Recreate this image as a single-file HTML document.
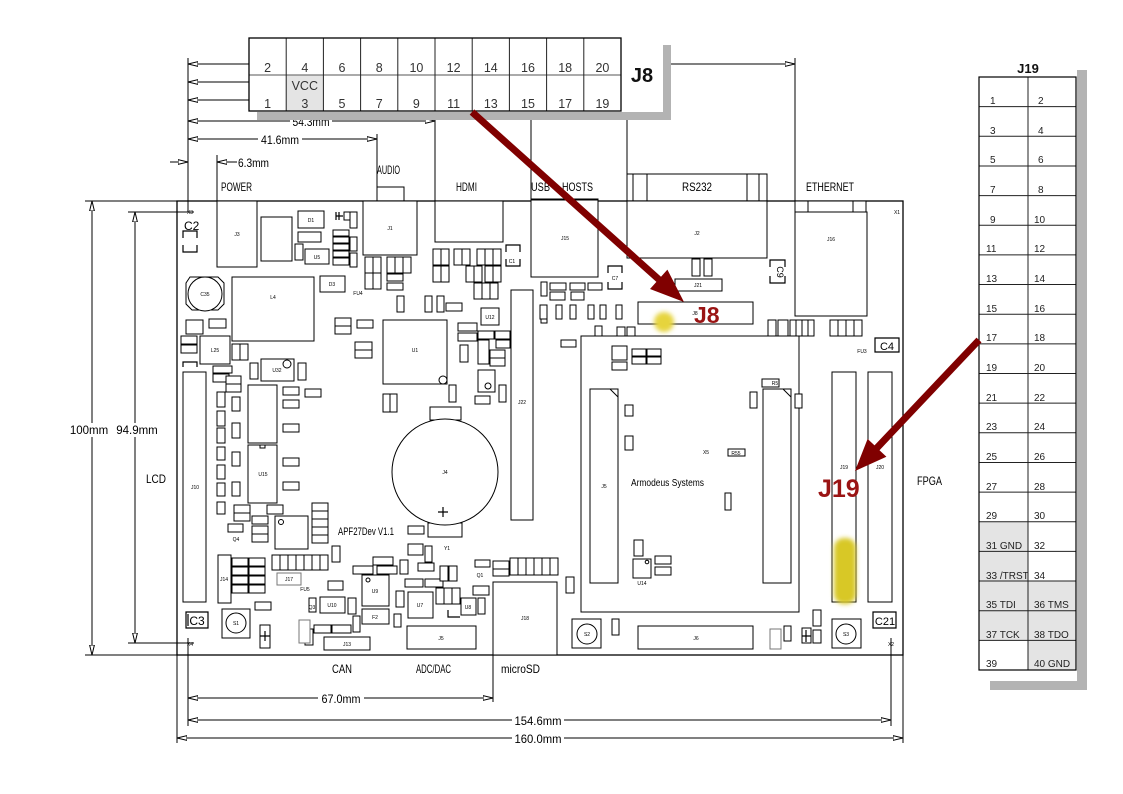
<!DOCTYPE html>
<html><head><meta charset="utf-8"><style>
html,body{margin:0;padding:0;background:#fff;}
svg{display:block;}
.n{font-family:"Liberation Sans Narrow","Liberation Sans",sans-serif;}
.s{font-family:"Liberation Sans",sans-serif;}
</style></head><body>
<svg width="1123" height="794" viewBox="0 0 1123 794" xmlns="http://www.w3.org/2000/svg">
<defs>
<marker id="a" viewBox="0 0 10 6" refX="10" refY="3" markerWidth="10" markerHeight="6" orient="auto-start-reverse" markerUnits="userSpaceOnUse"><path d="M0,0.6 L10,3 L0,5.4 Z" fill="#fff" stroke="#000" stroke-width="1"/></marker>
<filter id="bl" x="-50%" y="-50%" width="200%" height="200%"><feGaussianBlur stdDeviation="2.5"/></filter>
</defs>
<rect width="1123" height="794" fill="#fff"/>

<!-- ===== Dimension lines ===== -->
<g stroke="#000" stroke-width="1" fill="none">
<line x1="188" y1="58" x2="188" y2="212"/>
<path d="M249,64 H188" marker-end="url(#a)"/>
<path d="M249,82 H188" marker-end="url(#a)"/>
<path d="M249,100 H188" marker-end="url(#a)"/>
<path d="M188,121 H435" marker-start="url(#a)" marker-end="url(#a)"/>
<path d="M188,139 H377" marker-start="url(#a)" marker-end="url(#a)"/>
<path d="M170,162 H188" marker-end="url(#a)"/>
<path d="M237,162 H217" marker-end="url(#a)"/>
<line x1="217" y1="155" x2="217" y2="267"/>
<line x1="377" y1="134" x2="377" y2="201"/>
<line x1="435" y1="113" x2="435" y2="201"/>
<line x1="531" y1="113" x2="531" y2="210"/>
<line x1="627" y1="113" x2="627" y2="258"/>
<path d="M663,64 H795" marker-end="url(#a)"/>
<line x1="795" y1="58" x2="795" y2="316"/>
<line x1="85" y1="201" x2="177" y2="201"/>
<line x1="85" y1="655" x2="177" y2="655"/>
<path d="M92,201 V655" marker-start="url(#a)" marker-end="url(#a)"/>
<line x1="128" y1="212" x2="194" y2="212"/>
<line x1="128" y1="643" x2="194" y2="643"/>
<path d="M135,212 V643" marker-start="url(#a)" marker-end="url(#a)"/>
<line x1="188" y1="638" x2="188" y2="726"/>
<line x1="493" y1="655" x2="493" y2="702"/>
<line x1="891" y1="638" x2="891" y2="726"/>
<line x1="177" y1="655" x2="177" y2="743"/>
<line x1="903" y1="655" x2="903" y2="743"/>
<path d="M188,698 H493" marker-start="url(#a)" marker-end="url(#a)"/>
<path d="M188,720 H891" marker-start="url(#a)" marker-end="url(#a)"/>
<path d="M177,738 H903" marker-start="url(#a)" marker-end="url(#a)"/>
</g>
<g class="n" font-size="12" fill="#000">
<rect x="290" y="115" width="42" height="12" fill="#fff"/><text x="311" y="126" text-anchor="middle" textLength="37" lengthAdjust="spacingAndGlyphs">54.3mm</text>
<rect x="258" y="133" width="44" height="12" fill="#fff"/><text x="280" y="144" text-anchor="middle" textLength="38" lengthAdjust="spacingAndGlyphs">41.6mm</text>
<text x="238" y="167" textLength="31" lengthAdjust="spacingAndGlyphs">6.3mm</text>
<rect x="318" y="692" width="46" height="12" fill="#fff"/><text x="341" y="703" text-anchor="middle" textLength="39" lengthAdjust="spacingAndGlyphs">67.0mm</text>
<rect x="512" y="714" width="52" height="12" fill="#fff"/><text x="538" y="725" text-anchor="middle" textLength="47" lengthAdjust="spacingAndGlyphs">154.6mm</text>
<rect x="512" y="732" width="52" height="12" fill="#fff"/><text x="538" y="743" text-anchor="middle" textLength="47" lengthAdjust="spacingAndGlyphs">160.0mm</text>
<text x="221" y="191" textLength="31" lengthAdjust="spacingAndGlyphs">POWER</text>
<text x="377" y="174" textLength="23" lengthAdjust="spacingAndGlyphs">AUDIO</text>
<text x="456" y="191" textLength="21" lengthAdjust="spacingAndGlyphs">HDMI</text>
<text x="531" y="191" textLength="19" lengthAdjust="spacingAndGlyphs">USB</text>
<text x="562" y="191" textLength="31" lengthAdjust="spacingAndGlyphs">HOSTS</text>
<text x="682" y="191" textLength="30" lengthAdjust="spacingAndGlyphs">RS232</text>
<text x="806" y="191" textLength="48" lengthAdjust="spacingAndGlyphs">ETHERNET</text>
<text x="332" y="673" textLength="20" lengthAdjust="spacingAndGlyphs">CAN</text>
<text x="416" y="673" textLength="35" lengthAdjust="spacingAndGlyphs">ADC/DAC</text>
<text x="501" y="673" textLength="39" lengthAdjust="spacingAndGlyphs">microSD</text>
<text x="146" y="483" textLength="20" lengthAdjust="spacingAndGlyphs">LCD</text>
<text x="917" y="485" textLength="25" lengthAdjust="spacingAndGlyphs">FPGA</text>
</g>
<g class="s" font-size="11.5" fill="#000">
<rect x="70" y="423" width="38" height="14" fill="#fff"/><text x="89" y="434" text-anchor="middle">100mm</text>
<rect x="115" y="423" width="42" height="14" fill="#fff"/><text x="137" y="434" text-anchor="middle">94.9mm</text>
</g>

<!-- ===== Board outline ===== -->
<rect x="177" y="201" width="726" height="454" fill="none" stroke="#000" stroke-width="1.3"/>
<g stroke="#000" stroke-width="1" fill="none">
<rect x="627" y="174" width="140" height="27"/>
<line x1="633" y1="174" x2="633" y2="201"/><line x1="647" y1="174" x2="647" y2="201"/>
<line x1="747" y1="174" x2="747" y2="201"/><line x1="759" y1="174" x2="759" y2="201"/>
<rect x="377" y="187" width="27" height="14"/>
</g>

<!-- ===== Components ===== -->
<g stroke="#000" stroke-width="1" fill="#fff">
<rect x="217" y="201" width="40" height="66"/>
<rect x="261" y="217" width="31" height="44"/>
<rect x="298" y="211" width="26" height="17"/>
<rect x="298" y="232" width="23" height="10"/>
<rect x="295" y="244" width="8" height="16"/>
<rect x="305" y="249" width="24" height="15"/>
<rect x="344" y="212" width="12" height="8"/>
<rect x="350" y="212" width="7" height="16"/>
<rect x="333" y="230" width="16" height="6"/><rect x="333" y="237" width="16" height="6"/><rect x="333" y="244" width="16" height="6"/><rect x="333" y="251" width="16" height="6"/><rect x="333" y="258" width="16" height="7"/>
<rect x="350" y="237" width="7" height="14"/><rect x="350" y="253" width="7" height="14"/>
<rect x="363" y="201" width="54" height="54"/>
<rect x="435" y="201" width="68" height="41"/>
<rect x="531" y="199" width="67" height="78"/>
<line x1="531" y1="199.5" x2="598" y2="199.5" stroke-width="2"/>
<rect x="433" y="249" width="8" height="16"/><rect x="441" y="249" width="8" height="16"/>
<rect x="433" y="266" width="8" height="16"/><rect x="441" y="266" width="8" height="16"/>
<rect x="454" y="249" width="8" height="16"/><rect x="462" y="249" width="8" height="16"/>
<rect x="477" y="249" width="8" height="16"/><rect x="485" y="249" width="8" height="16"/><rect x="493" y="249" width="8" height="16"/>
<rect x="466" y="266" width="8" height="16"/><rect x="474" y="266" width="8" height="16"/>
<rect x="485" y="266" width="8" height="16"/><rect x="493" y="266" width="8" height="16"/>
<rect x="474" y="283" width="8" height="16"/><rect x="482" y="283" width="8" height="16"/><rect x="490" y="283" width="8" height="16"/>
<rect x="365" y="257" width="8" height="16"/><rect x="373" y="257" width="8" height="16"/>
<rect x="365" y="273" width="8" height="16"/><rect x="373" y="273" width="8" height="16"/>
<rect x="387" y="257" width="8" height="16"/><rect x="395" y="257" width="8" height="16"/><rect x="403" y="257" width="8" height="16"/>
<rect x="387" y="274" width="16" height="7"/><rect x="387" y="283" width="16" height="7"/>
<rect x="397" y="296" width="7" height="16"/><rect x="425" y="296" width="7" height="16"/><rect x="437" y="296" width="7" height="16"/>
<rect x="446" y="303" width="16" height="8"/>
<path d="M190,277 H218 L224,283 V304 L218,310 H192 L186,304 V283 Z"/>
<circle cx="205" cy="294" r="17"/>
<rect x="232" y="277" width="82" height="64"/>
<rect x="320" y="276" width="25" height="16"/>
<rect x="186" y="320" width="17" height="14"/>
<rect x="209" y="319" width="17" height="9"/>
<rect x="181" y="336" width="16" height="8"/><rect x="181" y="345" width="16" height="8"/>
<rect x="200" y="336" width="30" height="28"/>
<rect x="232" y="344" width="8" height="16"/><rect x="240" y="344" width="8" height="16"/>
<rect x="213" y="366" width="19" height="7"/><rect x="213" y="374" width="16" height="8"/>
<rect x="226" y="376" width="15" height="8"/><rect x="226" y="384" width="15" height="8"/>
<rect x="183" y="372" width="23" height="230"/>
<rect x="250" y="363" width="8" height="16"/>
<rect x="261" y="359" width="33" height="22"/>
<circle cx="287" cy="364" r="4"/>
<rect x="298" y="363" width="8" height="17"/>
<rect x="283" y="387" width="16" height="8"/><rect x="305" y="389" width="16" height="8"/><rect x="283" y="400" width="16" height="8"/>
<rect x="283" y="424" width="16" height="8"/>
<rect x="217" y="392" width="8" height="15"/><rect x="217" y="411" width="8" height="15"/><rect x="217" y="428" width="8" height="15"/><rect x="217" y="447" width="8" height="13"/><rect x="217" y="465" width="8" height="14"/><rect x="217" y="483" width="8" height="13"/><rect x="217" y="502" width="8" height="12"/>
<rect x="232" y="397" width="8" height="14"/><rect x="232" y="423" width="8" height="15"/><rect x="232" y="452" width="8" height="14"/><rect x="232" y="482" width="8" height="14"/>
<rect x="248" y="385" width="29" height="58"/>
<rect x="248" y="445" width="29" height="58"/>
<rect x="260" y="445" width="5" height="3"/>
<rect x="283" y="458" width="16" height="8"/><rect x="283" y="482" width="16" height="8"/>
<rect x="234" y="505" width="16" height="8"/><rect x="234" y="513" width="16" height="8"/>
<rect x="228" y="524" width="15" height="8"/>
<rect x="267" y="505" width="16" height="9"/>
<rect x="252" y="516" width="16" height="8"/><rect x="252" y="526" width="16" height="8"/><rect x="252" y="534" width="16" height="8"/>
<rect x="275" y="516" width="33" height="33"/>
<circle cx="281" cy="522" r="2.5"/>
<rect x="312" y="503" width="16" height="8"/><rect x="312" y="511" width="16" height="8"/><rect x="312" y="519" width="16" height="8"/><rect x="312" y="527" width="16" height="8"/><rect x="312" y="535" width="16" height="8"/>
<rect x="272" y="555" width="8" height="15"/><rect x="280" y="555" width="8" height="15"/><rect x="288" y="555" width="8" height="15"/><rect x="296" y="555" width="8" height="15"/><rect x="304" y="555" width="8" height="15"/><rect x="312" y="555" width="8" height="15"/><rect x="320" y="555" width="8" height="15"/>
<rect x="332" y="546" width="8" height="16"/>
<rect x="218" y="555" width="13" height="48"/>
<rect x="232" y="558" width="16" height="8"/><rect x="249" y="558" width="16" height="8"/>
<rect x="232" y="567" width="16" height="8"/><rect x="249" y="567" width="16" height="8"/>
<rect x="232" y="576" width="16" height="8"/><rect x="249" y="576" width="16" height="8"/>
<rect x="232" y="585" width="16" height="8"/><rect x="249" y="585" width="16" height="8"/>
<rect x="277" y="573" width="24" height="12" stroke="#777"/>
<rect x="328" y="581" width="15" height="9"/>
<rect x="255" y="602" width="16" height="8"/>
<rect x="222" y="609" width="28" height="29"/>
<circle cx="236" cy="623" r="10"/>
<rect x="260" y="625" width="10" height="23"/>
<rect x="305" y="629" width="8" height="16"/>
<rect x="299" y="620" width="11" height="23" stroke="#777"/>
<rect x="314" y="625" width="17" height="8"/><rect x="332" y="625" width="19" height="8"/>
<rect x="324" y="637" width="46" height="13"/>
<rect x="320" y="597" width="25" height="16"/>
<rect x="309" y="598" width="7" height="14"/><rect x="348" y="598" width="8" height="16"/>
<rect x="362" y="575" width="27" height="31"/>
<circle cx="368" cy="580" r="2"/>
<rect x="353" y="566" width="20" height="8"/><rect x="373" y="557" width="20" height="8"/><rect x="377" y="566" width="20" height="8"/>
<rect x="362" y="609" width="27" height="15"/>
<rect x="353" y="616" width="7" height="16"/><rect x="394" y="614" width="7" height="13"/>
<rect x="400" y="560" width="8" height="14"/>
<rect x="408" y="544" width="15" height="11"/><rect x="425" y="546" width="7" height="16"/>
<rect x="418" y="563" width="16" height="8"/>
<rect x="405" y="579" width="18" height="8"/><rect x="425" y="579" width="18" height="8"/>
<rect x="440" y="566" width="8" height="15"/><rect x="449" y="566" width="8" height="15"/>
<rect x="396" y="591" width="8" height="16"/>
<rect x="408" y="592" width="25" height="26"/>
<rect x="436" y="588" width="8" height="16"/><rect x="444" y="588" width="8" height="16"/><rect x="452" y="588" width="8" height="16"/>
<rect x="461" y="598" width="15" height="17"/><rect x="478" y="598" width="7" height="16"/>
<rect x="407" y="626" width="69" height="23"/>
<rect x="475" y="560" width="15" height="7"/>
<rect x="493" y="561" width="16" height="8"/><rect x="493" y="569" width="16" height="7"/>
<rect x="473" y="586" width="16" height="9"/>
<rect x="510" y="558" width="8" height="17"/><rect x="518" y="558" width="8" height="17"/><rect x="526" y="558" width="8" height="17"/><rect x="534" y="558" width="8" height="17"/><rect x="542" y="558" width="8" height="17"/><rect x="550" y="558" width="8" height="17"/>
<rect x="493" y="582" width="64" height="73"/>
<rect x="408" y="526" width="16" height="8"/>
<rect x="511" y="290" width="22" height="230"/>
<rect x="383" y="320" width="64" height="64"/>
<circle cx="443" cy="380" r="4"/>
<rect x="335" y="318" width="16" height="8"/><rect x="335" y="326" width="16" height="8"/>
<rect x="357" y="320" width="16" height="8"/>
<rect x="355" y="342" width="17" height="8"/><rect x="355" y="350" width="17" height="8"/>
<rect x="449" y="385" width="7" height="17"/>
<rect x="383" y="394" width="7" height="18"/><rect x="390" y="394" width="7" height="18"/>
<rect x="458" y="323" width="19" height="8"/><rect x="458" y="333" width="19" height="8"/>
<rect x="481" y="308" width="18" height="17"/>
<rect x="478" y="331" width="16" height="8"/><rect x="495" y="331" width="15" height="8"/><rect x="496" y="340" width="14" height="8"/>
<rect x="478" y="340" width="11" height="24"/>
<rect x="490" y="350" width="15" height="8"/><rect x="490" y="358" width="15" height="8"/>
<rect x="460" y="345" width="8" height="17"/>
<rect x="478" y="370" width="17" height="22"/>
<circle cx="488" cy="386" r="3"/>
<rect x="499" y="385" width="7" height="17"/>
<rect x="475" y="396" width="15" height="8"/>
<rect x="541" y="282" width="6" height="14"/><rect x="541" y="306" width="6" height="17"/>
<rect x="430" y="407" width="31" height="13"/>
<rect x="428" y="523" width="34" height="14"/>
<circle cx="445" cy="472" r="53"/>
<rect x="550" y="283" width="16" height="7"/><rect x="570" y="283" width="15" height="7"/><rect x="588" y="283" width="14" height="7"/>
<rect x="550" y="292" width="15" height="8"/><rect x="571" y="292" width="13" height="8"/>
<rect x="540" y="305" width="7" height="14"/><rect x="556" y="305" width="6" height="14"/><rect x="570" y="305" width="6" height="14"/><rect x="588" y="305" width="6" height="14"/><rect x="600" y="305" width="6" height="14"/><rect x="616" y="305" width="6" height="14"/>
<rect x="627" y="201" width="140" height="57"/>
<rect x="692" y="259" width="8" height="17"/><rect x="704" y="259" width="8" height="17"/>
<rect x="675" y="279" width="47" height="12"/>
<rect x="638" y="302" width="115" height="22"/>
<rect x="595" y="326" width="7" height="17"/>
<rect x="561" y="340" width="15" height="7"/>
<rect x="617" y="327" width="8" height="16"/><rect x="627" y="327" width="8" height="16"/>
<rect x="795" y="201" width="71" height="11"/>
<rect x="795" y="201" width="13" height="11"/><rect x="853" y="201" width="13" height="11"/>
<rect x="795" y="212" width="72" height="104"/>
<rect x="768" y="320" width="8" height="16"/><rect x="778" y="320" width="10" height="16"/><rect x="790" y="320" width="6" height="16"/><rect x="796" y="320" width="6" height="16"/><rect x="802" y="320" width="6" height="16"/><rect x="808" y="320" width="6" height="16"/>
<rect x="830" y="320" width="8" height="16"/><rect x="838" y="320" width="8" height="16"/><rect x="846" y="320" width="8" height="16"/><rect x="854" y="320" width="8" height="16"/>
<rect x="581" y="336" width="218" height="276"/>
<rect x="612" y="346" width="15" height="14"/>
<rect x="632" y="349" width="14" height="7"/><rect x="647" y="349" width="14" height="7"/><rect x="632" y="357" width="14" height="7"/><rect x="647" y="357" width="14" height="7"/>
<rect x="612" y="362" width="15" height="8"/>
<rect x="590" y="389" width="28" height="194"/>
<line x1="610" y1="389" x2="618" y2="397"/>
<rect x="763" y="389" width="28" height="194"/>
<line x1="783" y1="389" x2="791" y2="397"/>
<rect x="762" y="379" width="17" height="8"/>
<rect x="625" y="405" width="8" height="11"/><rect x="625" y="436" width="8" height="14"/>
<rect x="750" y="392" width="7" height="16"/><rect x="795" y="394" width="7" height="14"/>
<rect x="728" y="449" width="17" height="7"/><rect x="725" y="493" width="6" height="17"/>
<rect x="634" y="540" width="9" height="16"/>
<rect x="633" y="559" width="18" height="19"/>
<circle cx="647" cy="562" r="1.8"/>
<rect x="655" y="556" width="16" height="8"/><rect x="655" y="567" width="16" height="8"/>
<rect x="566" y="577" width="8" height="16"/>
<rect x="572" y="619" width="29" height="29"/>
<circle cx="587" cy="634" r="10"/>
<rect x="612" y="619" width="7" height="16"/>
<rect x="638" y="626" width="115" height="23"/>
<rect x="770" y="629" width="11" height="20" stroke="#777"/><rect x="784" y="626" width="7" height="15"/>
<rect x="813" y="610" width="8" height="16"/><rect x="813" y="630" width="8" height="13"/><rect x="802" y="628" width="9" height="15"/>
<rect x="832" y="619" width="29" height="29"/>
<circle cx="846" cy="634" r="10"/>
<rect x="832" y="372" width="24" height="230"/>
<rect x="868" y="372" width="24" height="230"/>
</g>
<g stroke="#000" stroke-width="1.2" fill="none">
<path d="M183,238 V231 H197 V238 M183,245 V252 H197 V245"/>
<path d="M506,252 V245 H520 V252 M506,259 V266 H520 V259"/>
<path d="M608,273 V266 H622 V273 M608,282 V289 H622 V282"/>
<path d="M770,267 V260 H785 V267 M770,276 V283 H785 V276"/>
<path d="M183,367 V362 H197 V367"/>
<path d="M186,612 H208 V628 H186 Z M188,614 V626"/>
<path d="M875,338 H899 V352 H875 Z"/>
<path d="M873,612 H896 V628 H873 Z"/>
<path d="M443,507 V517 M438,512 H448"/>
<path d="M260,636 H270 M265,631 V641"/>
<path d="M802,636 H811 M806,630 V642"/>
<path d="M339,212 V220 M336,216 H343 M336,212 V220"/>
<path d="M448,610 V617 H460"/>
</g>
<g class="n" font-size="5" fill="#000" text-anchor="middle">
<text x="190" y="214">X3</text><text x="190" y="646">X4</text><text x="897" y="214">X1</text><text x="891" y="646">X2</text>
<text x="237" y="236">J3</text><text x="390" y="230">J1</text><text x="565" y="240">J15</text><text x="697" y="235">J2</text><text x="831" y="241">J16</text>
<text x="273" y="299">L4</text><text x="415" y="352">U1</text><text x="522" y="404">J22</text><text x="195" y="489">J10</text>
<text x="263" y="476">U15</text><text x="445" y="474">J4</text><text x="236" y="625">S1</text><text x="587" y="636">S2</text><text x="846" y="636">S3</text>
<text x="441" y="640">J5</text><text x="525" y="620">J18</text><text x="696" y="640">J6</text><text x="347" y="646">J13</text>
<text x="604" y="488">J5</text><text x="844" y="469">J19</text><text x="880" y="469">J20</text><text x="706" y="454">X5</text>
<text x="375" y="593">U9</text><text x="420" y="607">U7</text><text x="468" y="609">U8</text><text x="332" y="607">U10</text><text x="375" y="619">F2</text>
<text x="215" y="352">L25</text><text x="277" y="372">U32</text><text x="205" y="296">C35</text><text x="332" y="286">D3</text><text x="311" y="222">D1</text>
<text x="317" y="259">U5</text><text x="490" y="319">U12</text><text x="698" y="287">J21</text><text x="695" y="315">J8</text><text x="224" y="581">J14</text><text x="289" y="581">J17</text>
<text x="642" y="585">U14</text><text x="775" y="385">R5</text><text x="736" y="455">R55</text><text x="512" y="263">C1</text><text x="615" y="280">C7</text>
<text x="358" y="295">FU4</text><text x="862" y="353">FU3</text><text x="305" y="591">FU5</text><text x="447" y="550">Y1</text><text x="480" y="577">Q1</text><text x="312" y="609">Q3</text><text x="236" y="541">Q4</text>
</g>
<g class="n" fill="#000">
<text x="184" y="230" font-size="12">C2</text>
<text x="197" y="625" font-size="12" text-anchor="middle">C3</text>
<text x="887" y="350" font-size="11" text-anchor="middle">C4</text>
<text x="885" y="625" font-size="11" text-anchor="middle">C21</text>
<text x="777" y="272" font-size="9" text-anchor="middle" transform="rotate(90 777 272)">C9</text>
<text x="631" y="486" font-size="10" textLength="73" lengthAdjust="spacingAndGlyphs">Armodeus Systems</text>
<text x="338" y="535" font-size="11" textLength="56" lengthAdjust="spacingAndGlyphs">APF27Dev V1.1</text>
</g>

<!-- ===== J8 table ===== -->
<rect x="257" y="45" width="414" height="75" fill="#b3b3b3"/>
<rect x="249" y="30" width="414" height="82" fill="#fff"/>
<rect x="286.2" y="75" width="37.2" height="36" fill="#e4e4e4"/>
<g stroke="#222" stroke-width="1" fill="none">
<line x1="249" y1="75" x2="621" y2="75" stroke="#777" stroke-width="1.2"/>
<line x1="286.2" y1="38" x2="286.2" y2="111"/><line x1="323.4" y1="38" x2="323.4" y2="111"/><line x1="360.6" y1="38" x2="360.6" y2="111"/><line x1="397.8" y1="38" x2="397.8" y2="111"/><line x1="435" y1="38" x2="435" y2="111"/><line x1="472.2" y1="38" x2="472.2" y2="111"/><line x1="509.4" y1="38" x2="509.4" y2="111"/><line x1="546.6" y1="38" x2="546.6" y2="111"/><line x1="583.8" y1="38" x2="583.8" y2="111"/>
<rect x="249" y="38" width="372" height="73" stroke="#000" stroke-width="1.3"/>
</g>
<g class="s" font-size="12.5" fill="#333" text-anchor="middle">
<text x="267.6" y="72">2</text><text x="304.8" y="72">4</text><text x="342" y="72">6</text><text x="379.2" y="72">8</text><text x="416.4" y="72">10</text><text x="453.6" y="72">12</text><text x="490.8" y="72">14</text><text x="528" y="72">16</text><text x="565.2" y="72">18</text><text x="602.4" y="72">20</text>
<text x="304.8" y="90">VCC</text>
<text x="267.6" y="108">1</text><text x="304.8" y="108">3</text><text x="342" y="108">5</text><text x="379.2" y="108">7</text><text x="416.4" y="108">9</text><text x="453.6" y="108">11</text><text x="490.8" y="108">13</text><text x="528" y="108">15</text><text x="565.2" y="108">17</text><text x="602.4" y="108">19</text>
</g>
<text x="642" y="82" class="s" font-size="20" font-weight="bold" fill="#111" text-anchor="middle">J8</text>

<!-- ===== J19 table ===== -->
<rect x="990" y="70" width="97" height="620" fill="#b3b3b3"/>
<rect x="972" y="55" width="105" height="626" fill="#fff"/>
<g fill="#e4e4e4">
<rect x="979" y="521.75" width="49" height="29.65"/>
<rect x="979" y="551.4" width="49" height="29.65"/>
<rect x="979" y="581.05" width="97" height="59.3"/>
<rect x="1028" y="640.35" width="48" height="29.65"/>
</g>
<g stroke="#222" stroke-width="1" fill="none">
<path d="M979,106.65 H1076 M979,136.3 H1076 M979,165.95 H1076 M979,195.6 H1076 M979,225.25 H1076 M979,254.9 H1076 M979,284.55 H1076 M979,314.2 H1076 M979,343.85 H1076 M979,373.5 H1076 M979,403.15 H1076 M979,432.8 H1076 M979,462.45 H1076 M979,492.1 H1076 M979,521.75 H1076 M979,551.4 H1076 M979,581.05 H1076 M979,610.7 H1076 M979,640.35 H1076"/>
<line x1="1028" y1="77" x2="1028" y2="670"/>
<rect x="979" y="77" width="97" height="593" stroke="#000" stroke-width="1.2"/>
</g>
<text x="1028" y="73" class="s" font-size="13" font-weight="bold" fill="#111" text-anchor="middle">J19</text>
<g class="s" font-size="10" fill="#222">
<text x="990" y="104">1</text><text x="1038" y="104">2</text>
<text x="990" y="134">3</text><text x="1038" y="134">4</text>
<text x="990" y="163">5</text><text x="1038" y="163">6</text>
<text x="990" y="193">7</text><text x="1038" y="193">8</text>
<text x="990" y="223">9</text><text x="1034" y="223">10</text>
<text x="986" y="252">11</text><text x="1034" y="252">12</text>
<text x="986" y="282">13</text><text x="1034" y="282">14</text>
<text x="986" y="312">15</text><text x="1034" y="312">16</text>
<text x="986" y="341">17</text><text x="1034" y="341">18</text>
<text x="986" y="371">19</text><text x="1034" y="371">20</text>
<text x="986" y="401">21</text><text x="1034" y="401">22</text>
<text x="986" y="430">23</text><text x="1034" y="430">24</text>
<text x="986" y="460">25</text><text x="1034" y="460">26</text>
<text x="986" y="490">27</text><text x="1034" y="490">28</text>
<text x="986" y="519">29</text><text x="1034" y="519">30</text>
<text x="986" y="549">31 GND</text><text x="1034" y="549">32</text>
<text x="986" y="579">33 /TRST</text><text x="1034" y="579">34</text>
<text x="986" y="608">35 TDI</text><text x="1034" y="608">36 TMS</text>
<text x="986" y="638">37 TCK</text><text x="1034" y="638">38 TDO</text>
<text x="986" y="667">39</text><text x="1034" y="667">40 GND</text>
</g>

<!-- ===== highlights ===== -->
<circle cx="664" cy="322" r="10" fill="#e6d43c" filter="url(#bl)"/>
<rect x="834" y="538" width="22" height="66" rx="10" fill="#d8c825" filter="url(#bl)"/>

<!-- ===== red arrows ===== -->
<polygon points="474.3,109.4 661.0,276.7 667.4,269.6 684,302 650.0,289.0 656.4,281.9 469.7,114.6" fill="#800000"/>
<polygon points="976.5,337.6 874.5,445.4 867.6,438.9 855,471 886.4,456.7 879.5,450.2 981.5,342.4" fill="#800000"/>
<text x="694" y="323" class="s" font-size="23" font-weight="bold" fill="#9a1414">J8</text>
<text x="818" y="497" class="s" font-size="25" font-weight="bold" fill="#9a1414">J19</text>
</svg>
</body></html>
